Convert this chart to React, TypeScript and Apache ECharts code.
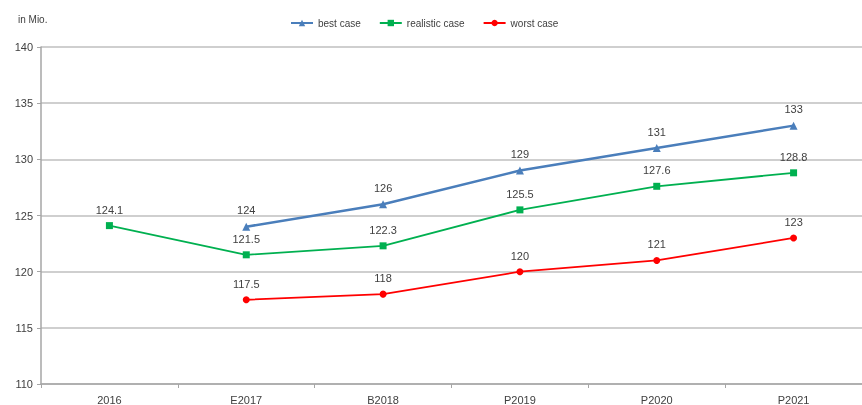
import React, { useEffect, useRef } from "react";
import * as echarts from "echarts";

const categories = ["2016", "E2017", "B2018", "P2019", "P2020", "P2021"];
const bestCase = [null, 124, 126, 129, 131, 133];
const realisticCase = [124.1, 121.5, 122.3, 125.5, 127.6, 128.8];
const worstCase = [null, 117.5, 118, 120, 121, 123];

const FONT = "Liberation Sans, Arial, sans-serif";

export default function App() {
  const ref = useRef<HTMLDivElement>(null);
  useEffect(() => {
    if (!ref.current) return;
    const chart = echarts.init(ref.current, undefined, { renderer: "svg" });
    const label = {
      show: true,
      position: "top" as const,
      distance: 7,
      color: "#404040",
      fontSize: 11,
      fontFamily: FONT,
    };
    chart.setOption({
      animation: false,
      textStyle: { fontFamily: FONT },
      graphic: [
        {
          type: "text",
          left: 18,
          top: 14,
          style: { text: "in Mio.", fontSize: 10, fill: "#404040", fontFamily: FONT },
        },
      ],
      legend: {
        top: 13,
        left: 285,
        itemGap: 18,
        itemWidth: 22,
        itemHeight: 8,
        textStyle: { fontSize: 10, color: "#404040", fontFamily: FONT },
        data: ["best case", "realistic case", "worst case"],
      },
      grid: { left: 41, top: 47, width: 828, height: 337 },
      xAxis: {
        type: "category",
        data: categories,
        boundaryGap: true,
        axisLine: { lineStyle: { color: "#a6a6a6", width: 1.5 } },
        axisTick: { show: true, length: 4, lineStyle: { color: "#a6a6a6" } },
        axisLabel: { color: "#404040", fontSize: 11, fontFamily: FONT, margin: 10 },
      },
      yAxis: {
        type: "value",
        min: 110,
        max: 140,
        interval: 5,
        axisLine: { show: true, lineStyle: { color: "#a6a6a6", width: 1.5 } },
        axisTick: { show: true, length: 4, lineStyle: { color: "#a6a6a6" } },
        axisLabel: { color: "#404040", fontSize: 11, fontFamily: FONT, margin: 8 },
        splitLine: { lineStyle: { color: "#bfbfbf", width: 1.5 } },
      },
      series: [
        {
          name: "best case",
          type: "line",
          data: bestCase,
          symbol: "triangle",
          symbolSize: 8,
          lineStyle: { color: "#4a7ebb", width: 2.5 },
          itemStyle: { color: "#4a7ebb" },
          label,
        },
        {
          name: "realistic case",
          type: "line",
          data: realisticCase,
          symbol: "rect",
          symbolSize: 7,
          lineStyle: { color: "#00b050", width: 1.8 },
          itemStyle: { color: "#00b050" },
          label,
        },
        {
          name: "worst case",
          type: "line",
          data: worstCase,
          symbol: "circle",
          symbolSize: 7,
          lineStyle: { color: "#ff0000", width: 1.8 },
          itemStyle: { color: "#ff0000" },
          label,
        },
      ],
    });
    return () => chart.dispose();
  }, []);
  return (
    <div
      ref={ref}
      style={{ position: "fixed", left: 0, top: 0, width: 862, height: 405 }}
    />
  );
}
